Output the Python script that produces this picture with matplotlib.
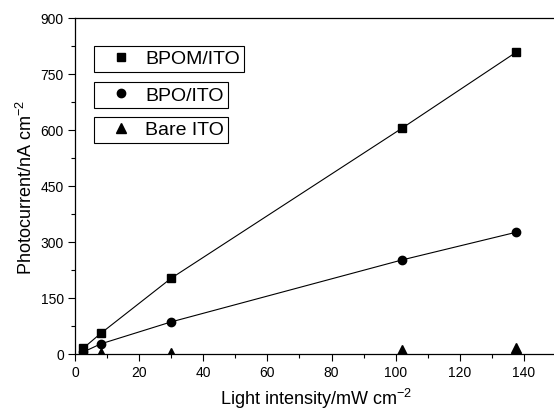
import matplotlib
matplotlib.use("Agg")
import matplotlib.pyplot as plt
from matplotlib.ticker import MultipleLocator

plt.rcParams['font.family'] = ['Liberation Sans', 'DejaVu Sans']
plt.rcParams['mathtext.fontset'] = 'custom'
plt.rcParams['mathtext.rm'] = 'Liberation Sans'
plt.rcParams['mathtext.it'] = 'Liberation Sans:italic'

intensity = [2.5, 8, 30, 102, 137.5]
bpom = [15, 55, 203, 605, 808]
bpo = [5, 27, 86, 252, 326]
bare = [0, 2, 3, 10, 15]
labels = ['BPOM/ITO', 'BPO/ITO', 'Bare ITO']

fig = plt.figure(figsize=(5.54, 4.10), dpi=100)
ax = fig.add_axes([75/554, 1-355/410, 150*3.207/554, 336/410])

h1, = ax.plot(intensity, bpom, color='black', lw=0.8, marker='s', ms=5.5)
h2, = ax.plot(intensity, bpo, color='black', lw=0.8, marker='o', ms=6)
h3, = ax.plot(intensity, bare, color='black', lw=0, marker='^', ms=7)

ax.set_xlim(0, 150)
ax.set_ylim(0, 900)
ax.xaxis.set_major_locator(MultipleLocator(20))
ax.xaxis.set_minor_locator(MultipleLocator(10))
ax.yaxis.set_major_locator(MultipleLocator(150))
ax.yaxis.set_minor_locator(MultipleLocator(75))
ax.tick_params(which='major', direction='out', length=5, width=0.8, labelsize=10, pad=3)
ax.tick_params(which='minor', direction='out', length=3, width=0.8)
ax.set_xticks([0, 20, 40, 60, 80, 100, 120, 140])
ax.set_xlabel('Light intensity/mW cm$^{-2}$', fontsize=13, labelpad=5)
ax.set_ylabel('Photocurrent/nA cm$^{-2}$', fontsize=13, labelpad=3)
for s in ax.spines.values():
    s.set_linewidth(0.9)

handles = [h1, h2, h3]
tops = [46.5, 83, 117.5]
for h, l, t in zip(handles, labels, tops):
    leg = fig.legend([h], [l], loc='upper left',
                     bbox_to_anchor=(94/554, 1-t/410), fontsize=14,
                     frameon=True, fancybox=False, edgecolor='black',
                     framealpha=1, borderpad=0.22, handlelength=2.3,
                     handletextpad=0.1, borderaxespad=0, numpoints=1)
    leg.get_frame().set_linewidth(0.8)
    for lh in leg.get_lines():
        lh.set_linestyle('none')

fig.savefig('out.png', dpi=100)
